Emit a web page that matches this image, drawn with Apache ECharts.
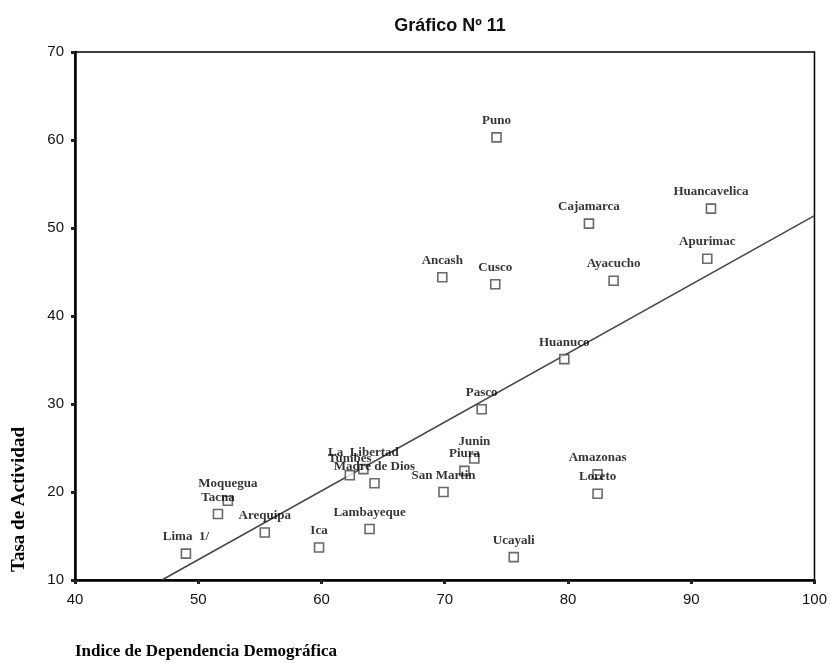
<!DOCTYPE html>
<html>
<head>
<meta charset="utf-8">
<script src="https://cdn.jsdelivr.net/npm/echarts@6/dist/echarts.min.js"></script>
<style>
html,body{margin:0;padding:0;background:#fff;}
#chart{width:830px;height:663px;}
</style>
</head>
<body>
<div id="chart"></div>
<script>
const departamentos = ["Puno","Cajamarca","Huancavelica","Apurimac","Ancash","Cusco","Ayacucho","Huanuco","Pasco","Junin","Piura","San Martin","Amazonas","Loreto","La  Libertad","Tumbes","Madre de Dios","Moquegua","Tacna","Arequipa","Lima  1/","Ica","Lambayeque","Ucayali"];
const dependencia = [74.2,81.7,91.6,91.3,69.8,74.1,83.7,79.7,73.0,72.4,71.6,69.9,82.4,82.4,63.4,62.3,64.3,52.4,51.6,55.4,49.0,59.8,63.9,75.6];
const actividad = [60.3,50.5,52.2,46.5,44.4,43.6,44.0,35.1,29.4,23.8,22.4,20.0,22.0,19.8,22.6,21.9,21.0,19.0,17.5,15.4,13.0,13.7,15.8,12.6];
const ajusteX = [47.05, 100];
const ajusteY = [10, 51.4];
const xTicks = [40,50,60,70,80,90,100];
const yTicks = [10,20,30,40,50,60,70];

const pts = departamentos.map((n,i)=>({name:n, value:[dependencia[i], actividad[i]]}));
const chart = echarts.init(document.getElementById('chart'), null, {renderer:'canvas'});
chart.setOption({
  animation:false,
  backgroundColor:'#fff',
  title:{text:'Gráfico Nº 11', left:445, top:12, textAlign:'center',
    textStyle:{fontFamily:'Liberation Sans', fontWeight:'bold', fontSize:18, color:'#111'}},
  grid:{left:75, right:13, top:52, bottom:83, show:true, borderColor:'#000', borderWidth:1.5, backgroundColor:'transparent'},
  xAxis:{type:'value', min:xTicks[0], max:xTicks[xTicks.length-1], interval:10,
    axisLine:{lineStyle:{color:'#000', width:2.5}},
    axisTick:{show:true, length:4, lineStyle:{color:'#222', width:3}},
    axisLabel:{fontFamily:'Liberation Sans', fontSize:15, color:'#111', margin:12},
    splitLine:{show:false}},
  yAxis:{type:'value', min:yTicks[0], max:yTicks[yTicks.length-1], interval:10,
    axisLine:{show:true, lineStyle:{color:'#000', width:2.5}},
    axisTick:{show:true, length:4, lineStyle:{color:'#222', width:3}},
    axisLabel:{fontFamily:'Liberation Sans', fontSize:15, color:'#111', margin:11},
    splitLine:{show:false}},
  graphic:[
    {type:'text', left:10, top:427, rotation:Math.PI/2, style:{text:'Tasa de Actividad', font:'bold 19px "Liberation Serif"', fill:'#000'}},
    {type:'text', left:75, top:643, style:{text:'Indice de Dependencia Demográfica', font:'bold 17px "Liberation Serif"', fill:'#000'}}
  ],
  series:[
    {type:'line', data:ajusteX.map((x,i)=>[x,ajusteY[i]]), symbol:'none', silent:true,
      lineStyle:{color:'#444', width:1.5}, z:2},
    {type:'scatter', data:pts, symbol:'rect', symbolSize:9,
      itemStyle:{color:'#fff', borderColor:'#444', borderWidth:1.6},
      label:{show:true, position:'top', distance:5, formatter:'{b}',
        fontFamily:'Liberation Serif', fontWeight:'bold', fontSize:13, color:'#000'},
      z:3}
  ]
});
</script>
</body>
</html>
